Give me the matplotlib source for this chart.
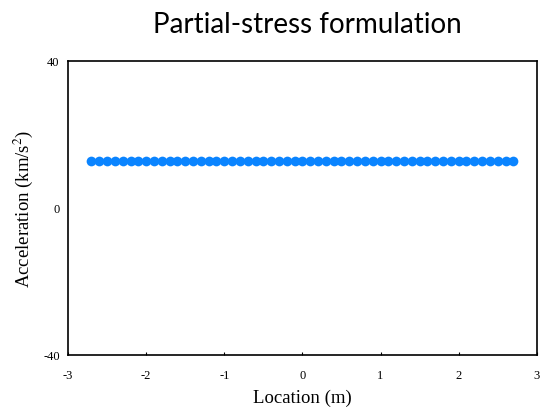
import numpy as np
import matplotlib
matplotlib.use("Agg")
import matplotlib.pyplot as plt

plt.rcParams['mathtext.fontset'] = 'stix'

x_values = [round(-2.7 + 0.1 * i, 1) for i in range(55)]
y_values = [12.7] * 55
x_ticks = [-3, -2, -1, 0, 1, 2, 3]
y_ticks = [-40, 0, 40]

fig = plt.figure(figsize=(5.4, 4.1), dpi=100)
ax = fig.add_axes([0.126, 0.132, 0.868, 0.717])
ax.plot(x_values, y_values, 'o', color='#0A84FF', markersize=7, markeredgewidth=0)
ax.set_xlim(-3, 3)
ax.set_ylim(-40, 40)
ax.set_xticks(x_ticks)
ax.set_yticks(y_ticks)
ax.set_xticklabels([str(t) for t in x_ticks], family='Liberation Serif', fontsize=9)
ax.set_yticklabels([str(t) for t in y_ticks], family='Liberation Serif', fontsize=9)
ax.tick_params(direction='in', length=2, width=0.8, pad=10)
ax.tick_params(axis='y', length=0, pad=6)
for s in ax.spines.values():
    s.set_linewidth(1.2)
ax.set_xlabel('Location (m)', family='Liberation Serif', fontsize=13.5, labelpad=6)
ax.set_ylabel('Acceleration (km/s$^{2}$)', family='Liberation Serif', fontsize=13.5, labelpad=6)
fig.text(0.569, 0.939, 'Partial-stress formulation', family='Lato', fontsize=20,
         ha='center', va='center')
fig.savefig('out.png', dpi=100)
